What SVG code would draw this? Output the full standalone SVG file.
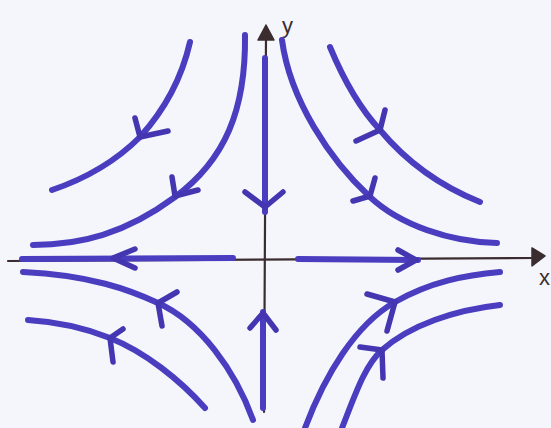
<svg xmlns="http://www.w3.org/2000/svg" width="551" height="428" viewBox="0 0 551 428">
  <style>
    .axis { stroke: #3b2d2f; stroke-width: 2.2; fill: none; stroke-linecap: round; }
    .head { fill: #3b2d2f; stroke: #3b2d2f; stroke-width: 1.5; stroke-linejoin: round; }
    .flow { stroke: #4a3dbf; stroke-width: 6; fill: none; stroke-linecap: round; stroke-linejoin: round; }
    .arm { stroke: #4436b0; stroke-width: 5.5; fill: none; stroke-linecap: round; stroke-linejoin: round; }
    .lbl { font-family: "Liberation Sans", Arial, sans-serif; font-size: 22px; fill: #3b2d2f; }
  </style>
  <rect width="551" height="428" fill="#f4f6fb"/>

  <g id="axes">
    <line class="axis" x1="8" y1="261" x2="535" y2="258"/>
    <polygon class="head" points="545,256 532,248 532,266"/>
    <line class="axis" x1="264" y1="412" x2="266" y2="36"/>
    <polygon class="head" points="266,25 258,40 274,40"/>
    <text class="lbl" x="282" y="33">y</text>
    <text class="lbl" x="539" y="285">x</text>
  </g>

  <g id="connectors">
    <!-- axis trajectories -->
    <g id="axis-flows">
      <line class="flow" x1="265" y1="58" x2="265" y2="212"/>
      <polyline class="arm" points="245,192 265,207 283,192"/>
      <line class="flow" x1="263" y1="312" x2="263" y2="408"/>
      <polyline class="arm" points="250,328 263,313 276,330"/>
      <line class="flow" x1="22" y1="259" x2="233" y2="258"/>
      <polyline class="arm" points="135,249 113,258 135,268"/>
      <line class="flow" x1="298" y1="259" x2="418" y2="260"/>
      <polyline class="arm" points="398,250 416,260 398,270"/>
    </g>
    <!-- upper left -->
    <g id="ul">
      <path class="flow" d="M190,42 Q178,95 140,137 Q105,172 52,190"/>
      <polyline class="arm" points="135,118 140,137 168,131"/>
      <path class="flow" d="M245,35 C246,110 225,160 175,197 C125,234 80,245 33,245"/>
      <polyline class="arm" points="172,177 175,196 198,190"/>
    </g>
    <!-- upper right -->
    <g id="ur">
      <path class="flow" d="M330,47 Q352,100 380,130 Q420,178 480,202"/>
      <polyline class="arm" points="385,110 380,130 356,141"/>
      <path class="flow" d="M282,40 C290,100 330,160 370,197 C400,225 450,242 497,243"/>
      <polyline class="arm" points="375,178 370,196 353,201"/>
    </g>
    <!-- lower left -->
    <g id="ll">
      <path class="flow" d="M23,272 C90,275 130,290 158,303 C200,322 235,370 253,420"/>
      <polyline class="arm" points="177,292 158,303 162,326"/>
      <path class="flow" d="M28,320 C60,322 90,330 110,338 C145,352 180,380 205,408"/>
      <polyline class="arm" points="123,329 110,338 113,362"/>
    </g>
    <!-- lower right -->
    <g id="lr">
      <path class="flow" d="M305,428 C325,375 355,325 395,302 C430,282 465,275 500,272"/>
      <polyline class="arm" points="367,294 395,302 387,331"/>
      <path class="flow" d="M342,428 C355,395 365,365 382,350 C410,325 455,310 500,305"/>
      <polyline class="arm" points="360,347 382,350 383,378"/>
    </g>
  </g>
</svg>
